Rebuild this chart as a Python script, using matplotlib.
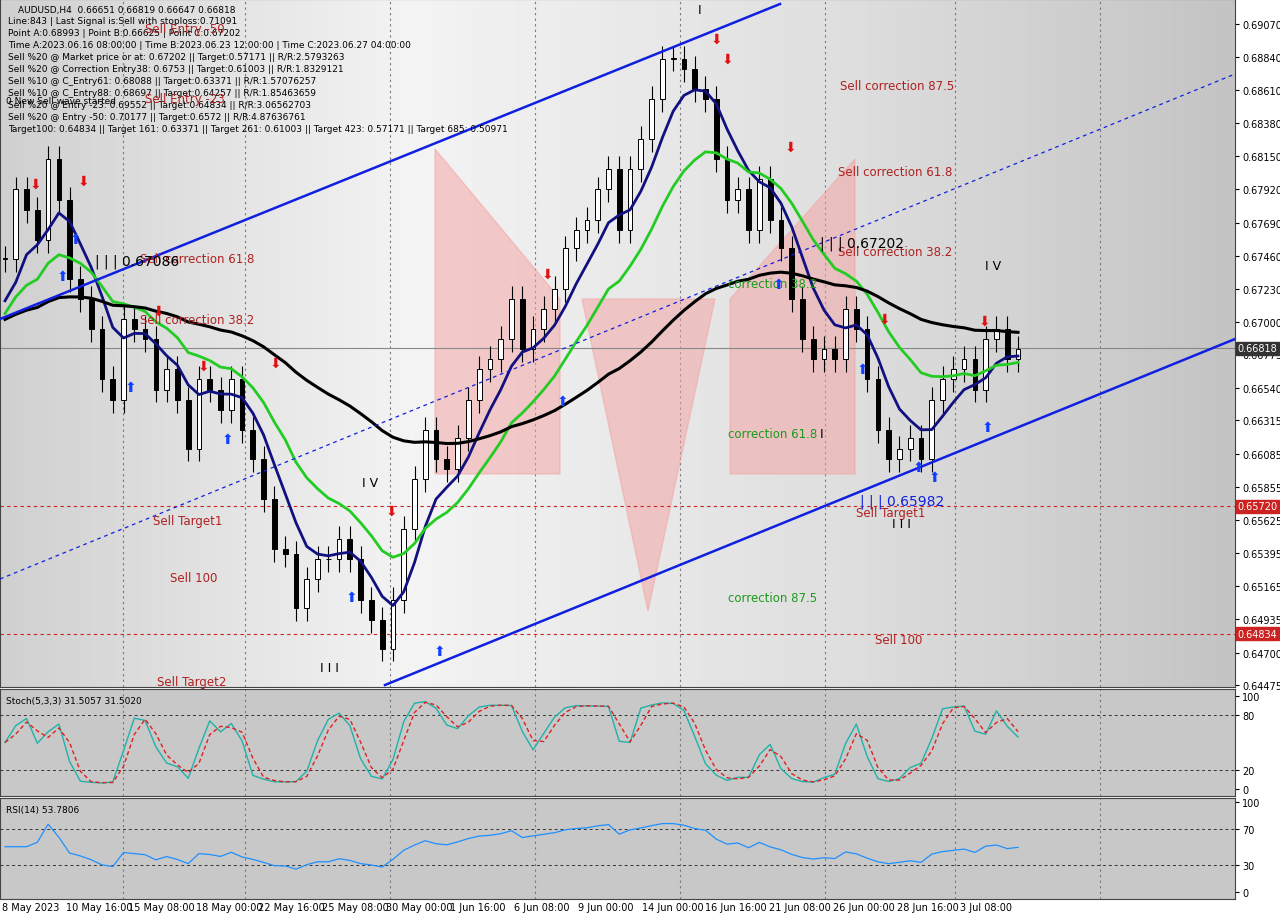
import matplotlib
matplotlib.use("Agg")
import matplotlib.pyplot as plt
import numpy as np
import pandas as pd
from matplotlib.patches import Polygon

W, H = 1280, 920
# closes (approx every 2.5 H4 bars)
closes = [0.6744,0.6792,0.6778,0.6757,0.6813,0.6785,0.6730,0.6716,0.6695,0.6660,0.6646,0.6702,
          0.6695,0.6688,0.6653,0.6667,0.6646,0.6612,0.6660,0.6653,0.6639,0.6660,0.6625,0.6605,
          0.6577,0.6542,0.6539,0.6501,0.6521,0.6535,0.6535,0.6549,0.6535,0.6507,0.6493,0.6473,
          0.6507,0.6556,0.6591,0.6625,0.6605,0.6598,0.6619,0.6646,0.6667,0.6674,0.6688,0.6716,
          0.6681,0.6695,0.6709,0.6723,0.6751,0.6764,0.6771,0.6792,0.6806,0.6764,0.6806,0.6827,
          0.6855,0.6883,0.6883,0.6876,0.6862,0.6855,0.6813,0.6785,0.6792,0.6764,0.6799,0.6771,
          0.6751,0.6716,0.6688,0.6674,0.6681,0.6674,0.6709,0.6695,0.6660,0.6625,0.6605,0.6612,
          0.6619,0.6605,0.6646,0.6660,0.6667,0.6674,0.6653,0.6688,0.6695,0.6674,0.6681]
ma_start = 0.6700
yticks = [0.69070,0.68840,0.68610,0.68380,0.68150,0.67920,0.67690,0.67460,0.67230,0.67000,
          0.66775,0.66540,0.66315,0.66085,0.65855,0.65625,0.65395,0.65165,0.64935,0.64700,0.64475]
date_labels = ["8 May 2023","10 May 16:00","15 May 08:00","18 May 00:00","22 May 16:00","25 May 08:00",
               "30 May 00:00","1 Jun 16:00","6 Jun 08:00","9 Jun 00:00","14 Jun 00:00","16 Jun 16:00",
               "21 Jun 08:00","26 Jun 00:00","28 Jun 16:00","3 Jul 08:00"]
date_px = [2,66,128,196,258,322,386,450,514,578,642,705,769,833,897,960]
grid_px = [123,245,390,535,680,825,955,1100]
current = 0.66818
target1 = 0.65720
sell100 = 0.64834

c = pd.Series(closes)
o = c.shift(1).fillna(c.iloc[0])
hi = np.maximum(o, c) + 0.0009
lo = np.minimum(o, c) - 0.0009
n = len(c)
xs = np.arange(n)
STEP = (1018 - 5) / (n - 1)
def px2x(px): return (px - 5) / STEP
def p2y(y): return 0.69070 - (y - 25) / 14390.0

fig = plt.figure(figsize=(12.8, 9.2), dpi=100)
fig.patch.set_facecolor("white")
axw = 1235 / W
ax = fig.add_axes([0, 232 / H, axw, 688 / H])
ax2 = fig.add_axes([0, 123 / H, axw, 107 / H])
ax3 = fig.add_axes([0, 20 / H, axw, 101 / H])
xl = (px2x(0), px2x(1235))
ylo, yhi = p2y(688), p2y(0)
cmap = matplotlib.colors.LinearSegmentedColormap.from_list("g", ["#d0d0d0", "#f4f4f4", "#e0e0e0", "#c4c4c4"])
for a in (ax, ax2, ax3):
    a.set_xlim(*xl)
    a.set_facecolor("#c8c8c8")
    for g in grid_px:
        a.axvline(px2x(g), color="#777777", ls=(0, (2, 3)), lw=0.8, zorder=1)
    a.tick_params(axis="y", which="both", left=False, right=True, labelleft=False, labelright=True,
                  labelsize=7, length=3, pad=2)
    a.tick_params(axis="x", bottom=False, labelbottom=False)
    for s in a.spines.values():
        s.set_color("#444444"); s.set_linewidth(0.8)

ax.set_ylim(ylo, yhi)
ax.imshow(np.linspace(0, 1, 256).reshape(1, -1), extent=[xl[0], xl[1], ylo, yhi], aspect="auto",
          cmap=cmap, zorder=0)
ax.set_yticks(yticks)
ax.set_yticklabels([f"{v:.5f}" for v in yticks])

for poly in [[(435, 475), (435, 150), (560, 300), (560, 475)], [(730, 475), (730, 300), (855, 160), (855, 475)],
             [(582, 300), (715, 300), (648, 612)]]:
    ax.add_patch(Polygon([(px2x(a_), p2y(b_)) for a_, b_ in poly], closed=True, color="#f4a0a0", alpha=0.5, zorder=1))

for i in xs:
    ax.vlines(i, lo[i], hi[i], color="black", lw=0.8, zorder=3)
    b0, b1 = sorted([o[i], c[i]])
    ax.add_patch(plt.Rectangle((i - 0.22, b0), 0.44, max(b1 - b0, 0.00005),
                 facecolor="white" if c[i] >= o[i] else "black", edgecolor="black", lw=0.7, zorder=4))

ext = pd.concat([pd.Series([ma_start] * 40), c], ignore_index=True)
blue = ext.ewm(span=5, adjust=False).mean().iloc[40:].rolling(2, min_periods=1).mean()
green = ext.ewm(span=14, adjust=False).mean().iloc[40:]
black = ext.ewm(span=50, adjust=False).mean().iloc[40:]
ax.plot(xs, blue.values, color="#101080", lw=2, zorder=5)
ax.plot(xs, green.values, color="#22cc22", lw=2, zorder=5)
ax.plot(xs, black.values, color="black", lw=2.2, zorder=5)

ax.plot([px2x(0), px2x(780)], [p2y(320), p2y(5)], color="#1020e0", lw=1.8, zorder=6)
ax.plot([px2x(385), px2x(1235)], [p2y(686), p2y(340)], color="#1020e0", lw=1.8, zorder=6)
ax.plot([px2x(0), px2x(1235)], [p2y(580), p2y(75)], color="#1020e0", lw=0.9, ls=(0, (3, 3)), zorder=6)
ax.axhline(current, color="#888888", lw=0.8, zorder=2)
ax.axhline(target1, color="#cc2222", lw=0.8, ls=(0, (3, 3)), zorder=2)
ax.axhline(sell100, color="#cc2222", lw=0.8, ls=(0, (3, 3)), zorder=2)

def badge(ax_, val, fc, txtc="white"):
    ax_.annotate(f"{val:.5f}", xy=(1, val), xycoords=("axes fraction", "data"), xytext=(2, 0),
                 textcoords="offset points", va="center", ha="left", fontsize=7, color=txtc,
                 bbox=dict(boxstyle="square,pad=0.15", fc=fc, ec=fc), zorder=10)
badge(ax, current, "#333333")
badge(ax, target1, "#cc2222")
badge(ax, sell100, "#cc2222")

def ftxt(x, y, s, color="#b02020", size=8.5, **kw):
    fig.text(x / W, 1 - y / H, s, color=color, fontsize=size, va="center", **kw)
info = ["AUDUSD,H4  0.66651 0.66819 0.66647 0.66818",
        "Line:843 | Last Signal is:Sell with stoploss:0.71091",
        "Point A:0.68993 | Point B:0.66625 | Point C:0.67202",
        "Time A:2023.06.16 08:00:00 | Time B:2023.06.23 12:00:00 | Time C:2023.06.27 04:00:00",
        "Sell %20 @ Market price or at: 0.67202 || Target:0.57171 || R/R:2.5793263",
        "Sell %20 @ Correction Entry38: 0.6753 || Target:0.61003 || R/R:1.8329121",
        "Sell %10 @ C_Entry61: 0.68088 || Target:0.63371 || R/R:1.57076257",
        "Sell %10 @ C_Entry88: 0.68697 || Target:0.64257 || R/R:1.85463659",
        "Sell %20 @ Entry -23: 0.69552 || Target:0.64834 || R/R:3.06562703",
        "Sell %20 @ Entry -50: 0.70177 || Target:0.6572 || R/R:4.87636761",
        "Target100: 0.64834 || Target 161: 0.63371 || Target 261: 0.61003 || Target 423: 0.57171 || Target 685: 0.50971"]
for k, s in enumerate(info):
    ftxt(8 if k else 18, 10 + k * 12, s, color="black", size=6.5)
ftxt(6, 101, "0 New Sell wave started", color="black", size=6.5)
for (x, y, s) in [(840, 86, "Sell correction 87.5"), (838, 173, "Sell correction 61.8"),
                  (838, 253, "Sell correction 38.2"), (140, 260, "Sell correction 61.8"),
                  (140, 321, "Sell correction 38.2"), (153, 522, "Sell Target1"), (170, 578, "Sell 100"),
                  (856, 514, "Sell Target1"), (875, 641, "Sell 100"), (157, 683, "Sell Target2"),
                  (145, 100, "Sell Entry -23"), (145, 30, "Sell Entry -50")]:
    ftxt(x, y, s)
for (x, y, s) in [(728, 285, "correction 38.2"), (728, 435, "correction 61.8"), (728, 598, "correction 87.5")]:
    ftxt(x, y, s, color="#1a9a1a")
ftxt(820, 244, "| | | 0.67202", color="black", size=10)
ftxt(860, 502, "| | | 0.65982", color="#1020e0", size=10)
ftxt(95, 262, "| | | 0.67086", color="black", size=10)
for (x, y, s) in [(698, 10, "I"), (362, 484, "I V"), (985, 266, "I V"), (820, 434, "I"), (892, 525, "I I I"),
                  (320, 668, "I I I")]:
    ftxt(x, y, s, color="black", size=9)
for (x, y) in [(35, 185), (83, 182), (158, 312), (203, 367), (275, 364), (391, 512), (547, 275), (716, 40),
               (727, 60), (790, 148), (884, 320), (984, 322)]:
    ftxt(x, y, "⬇", color="#e01010", size=10, ha="center")
for (x, y) in [(62, 277), (75, 240), (130, 388), (227, 440), (351, 598), (439, 652), (562, 402), (778, 285),
               (862, 370), (918, 468), (934, 478), (987, 428)]:
    ftxt(x, y, "⬆", color="#1040ff", size=10, ha="center")

ll = pd.Series(lo).rolling(4, min_periods=1).min()
hh = pd.Series(hi).rolling(4, min_periods=1).max()
k_ = (100 * (c - ll) / (hh - ll)).rolling(2, min_periods=1).mean()
d_ = k_.rolling(2, min_periods=1).mean()
ax2.set_ylim(-7.5, 107.5)
ax2.set_yticks([100, 80, 20, 0])
for v in (80, 20):
    ax2.axhline(v, color="#333333", lw=0.7, ls=(0, (3, 3)))
ax2.plot(xs, k_.values, color="#20b2aa", lw=1)
ax2.plot(xs, d_.values, color="#e02020", lw=1, ls=(0, (3, 2)))
ax2.text(0.005, 0.93, "Stoch(5,3,3) 31.5057 31.5020", transform=ax2.transAxes, fontsize=6.5, va="top")

delta = c.diff().fillna(0)
up = delta.clip(lower=0).ewm(alpha=1 / 14, adjust=False).mean()
dn = (-delta.clip(upper=0)).ewm(alpha=1 / 14, adjust=False).mean()
rsi = 100 - 100 / (1 + up / dn.replace(0, 1e-9))
rsi.iloc[:3] = 50
ax3.set_yticks([100, 70, 30, 0])
ax3.set_ylim(-8, 104)
for v in (70, 30):
    ax3.axhline(v, color="#333333", lw=0.7, ls=(0, (3, 3)))
ax3.plot(xs, rsi.values, color="#1e90ff", lw=0.9)
ax3.text(0.005, 0.93, "RSI(14) 53.7806", transform=ax3.transAxes, fontsize=6.5, va="top")

for s, p in zip(date_labels, date_px):
    fig.text(p / W, 1 - 908 / H, s, fontsize=7, va="center", ha="left")
fig.savefig("out.png", dpi=100)
